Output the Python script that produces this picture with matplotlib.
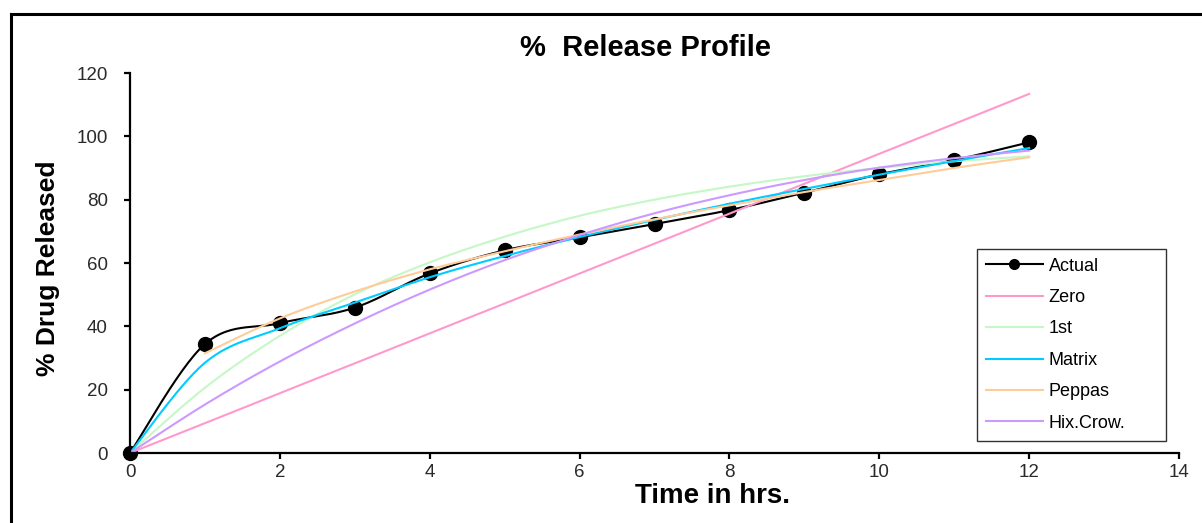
import numpy as np
import matplotlib
matplotlib.use("Agg")
from matplotlib import pyplot as plt
from matplotlib.lines import Line2D

plt.rcParams['font.family'] = ['Liberation Sans', 'DejaVu Sans']

# --- values ---
time_hrs = [0, 1, 2, 3, 4, 5, 6, 7, 8, 9, 10, 11, 12]
actual = [0, 34.4, 41.0, 45.9, 56.7, 64.0, 68.1, 72.3, 76.7, 82.2, 88.0, 92.5, 98.1]
zero = [0, 9.4, 18.9, 28.3, 37.8, 47.2, 56.7, 66.1, 75.6, 85.0, 94.5, 103.9, 113.4]
first = [0, 20.6, 37.0, 50.1, 60.2, 68.3, 74.9, 80.0, 84.1, 87.4, 90.0, 92.1, 93.7]
matrix = [0, 28.5, 39.4, 47.5, 55.5, 62.2, 68.2, 73.6, 78.7, 83.4, 87.9, 92.2, 96.3]
peppas_time = [1, 2, 3, 4, 5, 6, 7, 8, 9, 10, 11, 12]
peppas = [31.5, 42.5, 51.0, 58.0, 63.7, 69.0, 73.8, 78.2, 82.4, 86.2, 90.0, 93.4]
hix_crow = [0, 15.3, 28.9, 40.9, 51.6, 60.9, 68.8, 75.7, 81.4, 86.2, 90.1, 93.1, 95.5]

x_ticks = [0, 2, 4, 6, 8, 10, 12, 14]
y_ticks = [0, 20, 40, 60, 80, 100, 120]


# Excel style "smoothed line" (bezier through the points)
def smooth(x, y, steps=30):
    pts = np.column_stack([x, y]).astype(float)
    ext = np.vstack([pts[0], pts, pts[-1]])
    s = np.linspace(0, 1, steps)[1:, None]
    out = [pts[:1]]
    for i in range(len(pts) - 1):
        p0, p1, p2, p3 = ext[i], ext[i + 1], ext[i + 2], ext[i + 3]
        c1 = p1 + (p2 - p0) / 6
        c2 = p2 - (p3 - p1) / 6
        seg = (1 - s) ** 3 * p1 + 3 * (1 - s) ** 2 * s * c1 + 3 * (1 - s) * s ** 2 * c2 + s ** 3 * p2
        out.append(seg)
    out = np.vstack(out)
    return out[:, 0], out[:, 1]


fig = plt.figure(figsize=(12.02, 5.23), dpi=100)
ax = fig.add_axes([130 / 1202, 70 / 523, 1049 / 1202, 380 / 523])

lw = 1.5
sx, sy = smooth(time_hrs, actual)
ax.plot(sx, sy, color='black', lw=lw, zorder=2)
ax.plot(time_hrs, actual, 'o', color='black', ms=10, zorder=2, clip_on=False)

series = [
    (time_hrs, zero, '#ff99cc'),
    (time_hrs, first, '#c6f7c6'),
    (time_hrs, matrix, '#00ccff'),
    (peppas_time, peppas, '#ffcc99'),
    (time_hrs, hix_crow, '#cc99ff'),
]
for i, (xs, ys, col) in enumerate(series):
    sx, sy = smooth(xs, ys)
    ax.plot(sx, sy, color=col, lw=lw, zorder=3 + i)

ax.set_xlim(0, 14)
ax.set_ylim(0, 120)
ax.set_xticks(x_ticks)
ax.set_yticks(y_ticks)
for side in ['top', 'right']:
    ax.spines[side].set_visible(False)
for side in ['left', 'bottom']:
    ax.spines[side].set_linewidth(1.6)
    ax.spines[side].set_zorder(10)
ax.tick_params(direction='out', length=4, width=1.6, labelsize=13.5, labelcolor='#2a2a2a')
ax.tick_params(axis='y', pad=12)
ax.tick_params(axis='x', pad=4)

handles = [
    Line2D([], [], color='black', lw=lw, marker='o', ms=7),
    Line2D([], [], color='#ff99cc', lw=lw),
    Line2D([], [], color='#c6f7c6', lw=lw),
    Line2D([], [], color='#00ccff', lw=lw),
    Line2D([], [], color='#ffcc99', lw=lw),
    Line2D([], [], color='#cc99ff', lw=lw),
]
labels = ['Actual', 'Zero', '1st', 'Matrix', 'Peppas', 'Hix.Crow.']
leg = ax.legend(handles, labels, loc='lower left', bbox_to_anchor=(0.807, 0.032, 0.181, 0.496),
                mode='expand', fontsize=13, frameon=True, fancybox=False, edgecolor='black',
                handlelength=3.2, handletextpad=0.3, labelspacing=0.8, borderpad=0.5,
                borderaxespad=0)
leg.get_frame().set_linewidth(1.0)
leg.set_zorder(20)

fig.text(0.537, 0.908, '%  Release Profile', ha='center', va='center', fontsize=21, fontweight='bold')
fig.text(0.593, 0.052, 'Time in hrs.', ha='center', va='center', fontsize=20, fontweight='bold')
fig.text(0.040, 0.488, '% Drug Released', ha='center', va='center', rotation=90, fontsize=19,
         fontweight='bold')

# outer frame (left and top edges visible in the reference)
fig.add_artist(Line2D([11 / 1202, 11 / 1202], [0, 1 - 13.5 / 523], color='black', lw=2.2,
                      transform=fig.transFigure))
fig.add_artist(Line2D([11 / 1202, 1], [1 - 13.5 / 523, 1 - 13.5 / 523], color='black', lw=2.2,
                      transform=fig.transFigure))

fig.savefig('out.png', dpi=100)
